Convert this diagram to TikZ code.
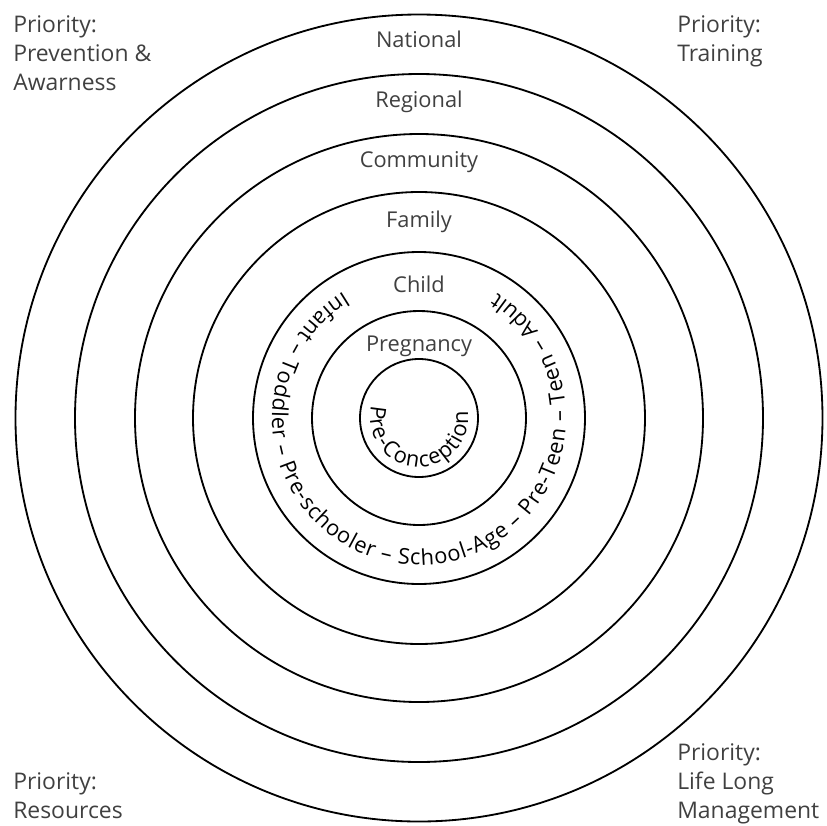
\documentclass[tikz,border=0pt]{standalone}
\usepackage{fontspec}
\setmainfont{Open Sans}
\usetikzlibrary{decorations.text}

\begin{document}
\begin{tikzpicture}[x=0.025cm, y=0.025cm,
                    ring/.style={line width=1.3pt},
                    layer/.style={text=black!75, font=\fontsize{15.5}{18}\selectfont, inner sep=0pt, anchor=base},
                    prio/.style={text=black!75, font=\fontsize{16.3}{20.6}\selectfont, align=left, inner sep=0pt, anchor=north west}]
    \useasboundingbox (-419,-407) rectangle (408,418);
    \coordinate (c) at (0,0);
    \foreach \r in {403.5, 344, 284, 226, 166, 107, 59}
        \draw[ring] (c) circle (\r);

    % layers
    \node[layer] (national) at (0,371) {National};
    \node[layer] (regional) at (0,311) {Regional};
    \node[layer] (community) at (0,251) {Community};
    \node[layer] (family) at (0,191) {Family};
    \node[layer] (child) at (0,126) {Child};
    \node[layer] (pregnancy) at (0,67) {Pregnancy};

    % ages round the child ring
    \path[decorate, decoration={text along path, text align=fit to path,
          text={|\fontsize{15.5}{18}\selectfont|Infant – Toddler – Pre-schooler – School-Age – Pre-Teen – Teen – Adult}}]
        (c) ++(121:147) arc[start angle=121, end angle=418, radius=147];
    \path[decorate, decoration={text along path, text align=fit to path,
          text={|\fontsize{15.5}{18}\selectfont|Pre-Conception}}]
        (c) ++(165:49) arc[start angle=165, end angle=368, radius=49];

    % priorities
    \node[prio] (prevention) at (-406,403) {Priority:\\Prevention \&\\Awarness};
    \node[prio] (training) at (258,403) {Priority:\\Training};
    \node[prio] (resources) at (-406,-354) {Priority:\\Resources};
    \node[prio] (lifelong) at (258,-325) {Priority:\\Life Long\\Management};
\end{tikzpicture}
\end{document}
